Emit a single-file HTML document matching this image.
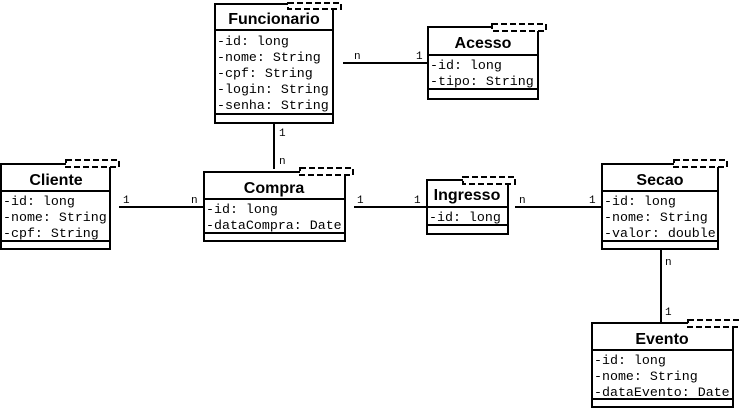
<!DOCTYPE html><html><head><style>body{margin:0;background:#fff}svg{display:block}
.t{font:bold 16px "Liberation Sans",sans-serif;text-anchor:middle}
.a{font:13.3px "Liberation Mono",monospace}
.l{font:11px "Liberation Mono",monospace}
</style></head><body>
<svg width="740" height="411" xmlns="http://www.w3.org/2000/svg" fill="none" stroke="#000" stroke-width="2">
<g id="boxes">
<rect x="215" y="4" width="118" height="119" fill="#fff"/>
<line x1="215" y1="30" x2="333" y2="30"/><line x1="215" y1="114" x2="333" y2="114"/>
<rect x="288" y="3" width="53" height="6" stroke-dasharray="6,3" fill="#fff"/>
<rect x="428" y="27" width="110" height="72" fill="#fff"/>
<line x1="428" y1="55" x2="538" y2="55"/><line x1="428" y1="89" x2="538" y2="89"/>
<rect x="492" y="24" width="54" height="7" stroke-dasharray="6,3" fill="#fff"/>
<rect x="1" y="164" width="109" height="85" fill="#fff"/>
<line x1="1" y1="191" x2="110" y2="191"/><line x1="1" y1="241" x2="110" y2="241"/>
<rect x="66" y="160" width="53" height="7" stroke-dasharray="6,3" fill="#fff"/>
<rect x="204" y="172" width="141" height="69" fill="#fff"/>
<line x1="204" y1="199" x2="345" y2="199"/><line x1="204" y1="233" x2="345" y2="233"/>
<rect x="300" y="168" width="53" height="7" stroke-dasharray="6,3" fill="#fff"/>
<rect x="427" y="180" width="81" height="54" fill="#fff"/>
<line x1="427" y1="207" x2="508" y2="207"/><line x1="427" y1="225" x2="508" y2="225"/>
<rect x="463" y="177" width="52" height="7" stroke-dasharray="6,3" fill="#fff"/>
<rect x="602" y="164" width="116" height="85" fill="#fff"/>
<line x1="602" y1="191" x2="718" y2="191"/><line x1="602" y1="241" x2="718" y2="241"/>
<rect x="674" y="160" width="53" height="7" stroke-dasharray="6,3" fill="#fff"/>
<rect x="592" y="323" width="141" height="84" fill="#fff"/>
<line x1="592" y1="350" x2="733" y2="350"/><line x1="592" y1="399" x2="733" y2="399"/>
<rect x="688" y="320" width="53" height="7" stroke-dasharray="6,3" fill="#fff"/>
</g>
<g>
<line x1="343" y1="63" x2="428" y2="63"/>
<line x1="274" y1="123" x2="274" y2="169"/>
<line x1="119" y1="207" x2="204" y2="207"/>
<line x1="354" y1="207" x2="427" y2="207"/>
<line x1="515" y1="207" x2="602" y2="207"/>
<line x1="661" y1="249" x2="661" y2="323"/>
</g>
<g fill="#000" stroke="none">
<text class="t" x="274" y="24">Funcionario</text>
<text class="t" x="483" y="48">Acesso</text>
<text class="t" x="56" y="185">Cliente</text>
<text class="t" x="274" y="193">Compra</text>
<text class="t" x="467" y="200">Ingresso</text>
<text class="t" x="660" y="185">Secao</text>
<text class="t" x="662" y="344">Evento</text>
<text class="a" x="217" y="45">-id: long</text>
<text class="a" x="217" y="61">-nome: String</text>
<text class="a" x="217" y="77">-cpf: String</text>
<text class="a" x="217" y="93">-login: String</text>
<text class="a" x="217" y="109">-senha: String</text>
<text class="a" x="430" y="69">-id: long</text>
<text class="a" x="430" y="85">-tipo: String</text>
<text class="a" x="3" y="205">-id: long</text>
<text class="a" x="3" y="221">-nome: String</text>
<text class="a" x="3" y="237">-cpf: String</text>
<text class="a" x="206" y="213">-id: long</text>
<text class="a" x="206" y="229">-dataCompra: Date</text>
<text class="a" x="429" y="221">-id: long</text>
<text class="a" x="604" y="205">-id: long</text>
<text class="a" x="604" y="221">-nome: String</text>
<text class="a" x="604" y="237">-valor: double</text>
<text class="a" x="594" y="364">-id: long</text>
<text class="a" x="594" y="380">-nome: String</text>
<text class="a" x="594" y="396">-dataEvento: Date</text>
<text class="l" x="354" y="59">n</text><text class="l" x="416" y="59">1</text>
<text class="l" x="279" y="136">1</text><text class="l" x="279" y="164">n</text>
<text class="l" x="123" y="203">1</text><text class="l" x="191" y="203">n</text>
<text class="l" x="357" y="203">1</text><text class="l" x="414" y="203">1</text>
<text class="l" x="519" y="203">n</text><text class="l" x="589" y="203">1</text>
<text class="l" x="665" y="265">n</text><text class="l" x="665" y="315">1</text>
</g>
</svg></body></html>
